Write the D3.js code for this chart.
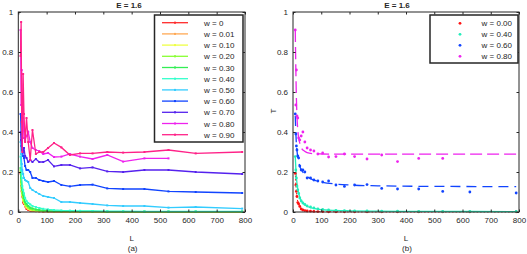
<!DOCTYPE html>
<html>
<head>
<meta charset="utf-8">
<script src="https://cdn.jsdelivr.net/npm/d3@7"></script>
<style>
  body { margin: 0; background: #fff; }
  text { font-family: "Liberation Sans", Arial, sans-serif; fill: #262626; }
</style>
</head>
<body>
<div id="container"></div>
<script>
// system sizes L (shared by every series)
const L = [8, 10, 12, 14, 17, 20, 24, 29, 35, 42, 50, 62, 74, 88, 105, 126, 152, 182, 218, 262, 314, 370, 445, 530, 626, 790];

// transmission T for each disorder strength w
const t000 = [0.193, 0.135, 0.103, 0.078, 0.047, 0.04, 0.028, 0.015, 0.01, 0.007, 0.005, 0.004, 0.003, 0.002, 0.002, 0.001, 0.001, 0.001, 0.001, 0.001, 0.001, 0.001, 0.001, 0.001, 0.001, 0.001];
const t001 = [0.2, 0.14, 0.105, 0.08, 0.055, 0.045, 0.03, 0.02, 0.014, 0.01, 0.007, 0.005, 0.004, 0.003, 0.002, 0.002, 0.001, 0.001, 0.001, 0.001, 0.001, 0.001, 0.001, 0.001, 0.001, 0.001];
const t010 = [0.2, 0.14, 0.11, 0.085, 0.06, 0.05, 0.035, 0.025, 0.017, 0.012, 0.009, 0.006, 0.005, 0.004, 0.003, 0.002, 0.002, 0.001, 0.001, 0.001, 0.001, 0.001, 0.001, 0.001, 0.001, 0.001];
const t020 = [0.21, 0.15, 0.12, 0.095, 0.07, 0.055, 0.04, 0.03, 0.022, 0.016, 0.012, 0.009, 0.007, 0.005, 0.004, 0.003, 0.003, 0.002, 0.002, 0.002, 0.001, 0.001, 0.001, 0.001, 0.001, 0.001];
const t030 = [0.22, 0.17, 0.13, 0.11, 0.085, 0.07, 0.05, 0.04, 0.03, 0.022, 0.018, 0.013, 0.01, 0.008, 0.006, 0.005, 0.004, 0.004, 0.003, 0.003, 0.002, 0.002, 0.002, 0.002, 0.002, 0.002];
const t040 = [0.277, 0.21, 0.17, 0.13, 0.11, 0.093, 0.07, 0.055, 0.045, 0.038, 0.03, 0.025, 0.02, 0.016, 0.013, 0.01, 0.008, 0.007, 0.006, 0.005, 0.004, 0.004, 0.003, 0.003, 0.003, 0.003];
const t050 = [0.35, 0.29, 0.24, 0.21, 0.19, 0.17, 0.16, 0.155, 0.15, 0.12, 0.11, 0.1, 0.09, 0.08, 0.075, 0.07, 0.05, 0.05, 0.045, 0.04, 0.033, 0.03, 0.03, 0.022, 0.025, 0.017];
const t060 = [0.49, 0.39, 0.33, 0.31, 0.28, 0.27, 0.23, 0.21, 0.21, 0.2, 0.17, 0.17, 0.16, 0.155, 0.15, 0.155, 0.135, 0.128, 0.135, 0.137, 0.118, 0.115, 0.115, 0.103, 0.1, 0.095];
const t070 = [0.4, 0.36, 0.33, 0.31, 0.3, 0.32, 0.28, 0.27, 0.25, 0.26, 0.25, 0.265, 0.25, 0.25, 0.26, 0.228, 0.235, 0.235, 0.218, 0.223, 0.203, 0.2, 0.21, 0.21, 0.2, 0.19];
const t080 = [0.91, 0.535, 0.71, 0.48, 0.47, 0.37, 0.36, 0.38, 0.4, 0.35, 0.32, 0.31, 0.305, 0.29, 0.295, 0.275, 0.277, 0.29, 0.277, 0.265, 0.285, 0.252, 0.268, 0.268, null, null];
const t090 = [0.78, 0.95, 0.45, 0.3, 0.69, 0.49, 0.35, 0.47, 0.35, 0.26, 0.41, 0.29, 0.3, 0.3, 0.32, 0.345, 0.323, 0.285, 0.293, 0.293, 0.3, 0.297, 0.3, 0.31, 0.293, 0.3];

const labelsA = ["w = 0", "w = 0.01", "w = 0.10", "w = 0.20", "w = 0.30", "w = 0.40", "w = 0.50", "w = 0.60", "w = 0.70", "w = 0.80", "w = 0.90"];
const colorsA = ["#ff2a2a", "#ffa955", "#eeff44", "#88ff33", "#33ee55", "#33ffcc", "#33ccff", "#1144ff", "#5522ee", "#ee22ee", "#ff2288"];
const seriesA = [t000, t001, t010, t020, t030, t040, t050, t060, t070, t080, t090];

// panel (b): fitted curves
const fitL = [8, 10, 12, 14, 17, 20, 25, 30, 40, 50, 70, 100, 150, 200, 300, 500, 790];
const fit000 = [0.2, 0.14, 0.1, 0.075, 0.052, 0.038, 0.024, 0.016, 0.009, 0.006, 0.003, 0.0015, 0.001, 0.0005, 0.0003, 0.0002, 0.0001];
const fit040 = [0.28, 0.22, 0.175, 0.145, 0.115, 0.095, 0.07, 0.055, 0.038, 0.029, 0.019, 0.012, 0.008, 0.006, 0.004, 0.003, 0.002];
const fit060 = [0.48, 0.4, 0.34, 0.31, 0.27, 0.25, 0.225, 0.21, 0.19, 0.177, 0.162, 0.15, 0.14, 0.135, 0.131, 0.128, 0.127];
const fit080 = [0.91, 0.72, 0.57, 0.48, 0.41, 0.37, 0.34, 0.32, 0.305, 0.297, 0.292, 0.29, 0.289, 0.289, 0.289, 0.289, 0.289];

const labelsB = ["w = 0.00", "w = 0.40", "w = 0.60", "w = 0.80"];
const colorsB = ["#ff1111", "#22eebb", "#1144ff", "#ee22ee"];
const pointsB = [t000, t040, t060, t080];
const fitsB = [fit000, fit040, fit060, fit080];
const dashB = ["1.5,2", null, "10,6", "12,5"];

const xTicks = [0, 100, 200, 300, 400, 500, 600, 700, 800];
const yTicks = [0, 0.2, 0.4, 0.6, 0.8, 1];

const svg = d3
  .select("#container")
  .append("svg")
  .attr("width", 527)
  .attr("height", 254);

const drawAxes = (x, y, title, titleX, sub) => {
  const g = svg.append("g");
  const [x0, x1] = x.range();
  const [y0, y1] = y.range();
  const fmt = (d) => (d === 0 || d === 1 ? d3.format("d")(d) : d3.format(".1f")(d));

  g.append("g")
    .attr("transform", `translate(0,${y0})`)
    .call(d3.axisBottom(x).tickValues(xTicks).tickSize(-2.5).tickPadding(5))
    .call((a) => a.select(".domain").remove());
  g.append("g")
    .attr("transform", `translate(0,${y1})`)
    .call(d3.axisTop(x).tickValues(xTicks).tickSize(-2.5).tickFormat(""))
    .call((a) => a.select(".domain").remove());
  g.append("g")
    .attr("transform", `translate(${x0},0)`)
    .call(d3.axisLeft(y).tickValues(yTicks).tickSize(-2.5).tickPadding(5).tickFormat(fmt))
    .call((a) => a.select(".domain").remove());
  g.append("g")
    .attr("transform", `translate(${x1},0)`)
    .call(d3.axisRight(y).tickValues(yTicks).tickSize(-2.5).tickFormat(""))
    .call((a) => a.select(".domain").remove());

  g.selectAll(".tick line").attr("stroke", "#262626");
  g.selectAll(".tick text").style("font-size", "8px").attr("fill", "#333");

  g.append("rect")
    .attr("x", x0)
    .attr("y", y1)
    .attr("width", x1 - x0)
    .attr("height", y0 - y1)
    .attr("fill", "none")
    .attr("stroke", "#262626")
    .attr("stroke-width", 1);

  g.append("text")
    .attr("x", titleX)
    .attr("y", 8)
    .attr("text-anchor", "middle")
    .style("font-size", "8px")
    .style("font-weight", "bold")
    .text(title);
  g.append("text")
    .attr("x", (x0 + x1) / 2)
    .attr("y", 241)
    .attr("text-anchor", "middle")
    .style("font-size", "8px")
    .text("L");
  g.append("text")
    .attr("x", (x0 + x1) / 2 + 1)
    .attr("y", 251)
    .attr("text-anchor", "middle")
    .style("font-size", "8px")
    .text(sub);
};

// ---- panel (a)
const xA = d3.scaleLinear().domain([0, 800]).range([18.3, 245]);
const yA = d3.scaleLinear().domain([0, 1]).range([212, 12]);

const lineA = d3
  .line()
  .defined((d) => d[1] !== null)
  .x((d) => xA(d[0]))
  .y((d) => yA(d[1]));

seriesA.forEach((s, i) => {
  const pts = L.map((l, j) => [l, s[j]]);
  svg.append("path")
    .attr("d", lineA(pts))
    .attr("fill", "none")
    .attr("stroke", colorsA[i])
    .attr("stroke-width", 1.3);
  svg.append("g")
    .selectAll("rect")
    .data(pts.filter((d) => d[1] !== null))
    .enter()
    .append("rect")
    .attr("x", (d) => xA(d[0]) - 1)
    .attr("y", (d) => yA(d[1]) - 1)
    .attr("width", 2)
    .attr("height", 2)
    .attr("fill", colorsA[i]);
});

drawAxes(xA, yA, "E = 1.6", 129, "(a)");

const legA = svg.append("g");
legA.append("rect")
  .attr("x", 154.5)
  .attr("y", 15)
  .attr("width", 88.5)
  .attr("height", 127)
  .attr("fill", "#fff")
  .attr("stroke", "#262626")
  .attr("stroke-width", 1.5);
labelsA.forEach((lab, i) => {
  const yy = 22.7 + i * 11.2;
  legA.append("line")
    .attr("x1", 162).attr("x2", 188)
    .attr("y1", yy).attr("y2", yy)
    .attr("stroke", colorsA[i])
    .attr("stroke-width", 1.3);
  legA.append("rect")
    .attr("x", 174).attr("y", yy - 1)
    .attr("width", 2).attr("height", 2)
    .attr("fill", colorsA[i]);
  legA.append("text")
    .attr("x", 204)
    .attr("y", yy + 3)
    .style("font-size", "8px")
    .text(lab);
});

// ---- panel (b)
const xB = d3.scaleLinear().domain([0, 800]).range([293, 519]);
const yB = d3.scaleLinear().domain([0, 1]).range([212, 12]);

const lineB = d3
  .line()
  .curve(d3.curveMonotoneX)
  .x((d) => xB(d[0]))
  .y((d) => yB(d[1]));

fitsB.forEach((f, i) => {
  svg.append("path")
    .attr("d", lineB(fitL.map((l, j) => [l, f[j]])))
    .attr("fill", "none")
    .attr("stroke", colorsB[i])
    .attr("stroke-width", i === 0 ? 1 : 1.3)
    .attr("stroke-dasharray", dashB[i]);
});

pointsB.forEach((s, i) => {
  svg.append("g")
    .selectAll("circle")
    .data(L.map((l, j) => [l, s[j]]).filter((d) => d[1] !== null))
    .enter()
    .append("circle")
    .attr("cx", (d) => xB(d[0]))
    .attr("cy", (d) => yB(d[1]))
    .attr("r", 1.4)
    .attr("fill", colorsB[i]);
});

drawAxes(xB, yB, "E = 1.6", 397, "(b)");

svg.append("text")
  .attr("transform", "translate(276,111) rotate(-90)")
  .attr("text-anchor", "middle")
  .style("font-size", "8px")
  .text("T");

const legB = svg.append("g");
legB.append("rect")
  .attr("x", 430)
  .attr("y", 15)
  .attr("width", 88)
  .attr("height", 48)
  .attr("fill", "#fff")
  .attr("stroke", "#262626")
  .attr("stroke-width", 1.5);
labelsB.forEach((lab, i) => {
  const yy = 23.3 + i * 11;
  legB.append("circle")
    .attr("cx", 460).attr("cy", yy)
    .attr("r", 1.4)
    .attr("fill", colorsB[i]);
  legB.append("text")
    .attr("x", 512)
    .attr("y", yy + 3)
    .attr("text-anchor", "end")
    .style("font-size", "8px")
    .text(lab);
});
</script>
</body>
</html>
